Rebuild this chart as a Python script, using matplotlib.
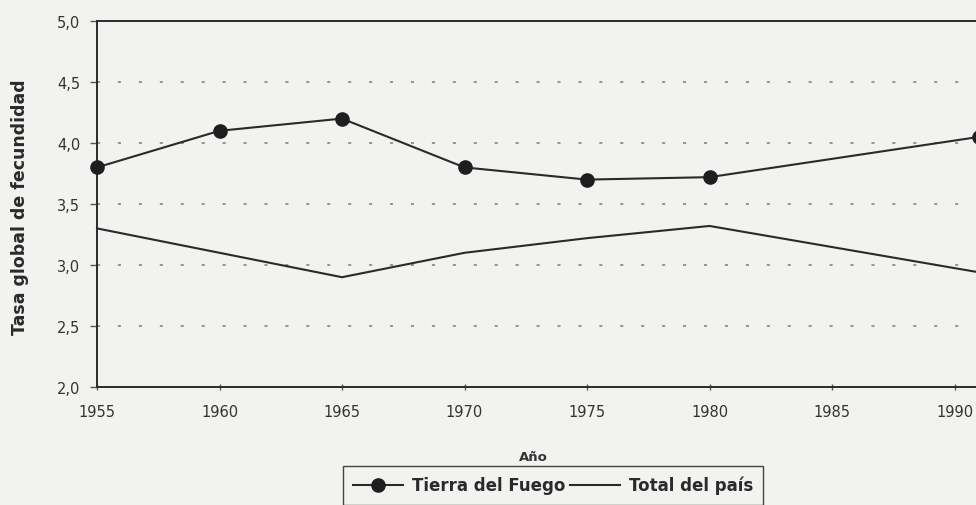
import matplotlib
matplotlib.use("Agg")
import matplotlib.pyplot as plt
from matplotlib.lines import Line2D

years = [1955, 1960, 1965, 1970, 1975, 1980, 1991]
tierra_del_fuego = [3.80, 4.10, 4.20, 3.80, 3.70, 3.72, 4.05]
total_pais = [3.30, 3.10, 2.90, 3.10, 3.22, 3.32, 2.94]
x_ticks = [1955, 1960, 1965, 1970, 1975, 1980, 1985, 1990]
y_ticks = [2.0, 2.5, 3.0, 3.5, 4.0, 4.5, 5.0]
y_tick_labels = ["2,0", "2,5", "3,0", "3,5", "4,0", "4,5", "5,0"]
series_labels = ["Tierra del Fuego", "Total del país"]
x_label = "Año"
y_label = "Tasa global de fecundidad"

W, H = 976, 506
bg = "#f2f2f0"
ink = "#2a2a2a"

fig = plt.figure(figsize=(W / 100, H / 100), dpi=100, facecolor=bg)
left, right, top, bottom = 97, 979, 22, 388
ax = fig.add_axes([left / W, 1 - bottom / H, (right - left) / W, (bottom - top) / H])
ax.set_facecolor(bg)

ax.plot(years, tierra_del_fuego, color=ink, lw=1.5, marker="o", ms=9.5,
        mfc="#1e1e1e", mec="#1e1e1e", clip_on=False, zorder=3)
ax.plot(years, total_pais, color=ink, lw=1.5, clip_on=False, zorder=3)

ax.set_xlim(1955, 1991)
ax.set_ylim(2.0, 5.0)
ax.set_xticks(x_ticks)
ax.set_yticks(y_ticks)
ax.set_yticklabels(y_tick_labels)

for v in y_ticks[1:-1]:
    ax.axhline(v, color="#7a7a7a", lw=1.1, linestyle=(0, (2.0, 11.7)), zorder=1)

for s in ["left", "bottom", "top"]:
    ax.spines[s].set_color(ink)
    ax.spines[s].set_linewidth(1.4)
ax.spines["right"].set_visible(False)

ax.tick_params(axis="y", direction="out", length=5, width=1, color="#555555",
               pad=7, labelsize=10.5, labelcolor="#333333")
ax.tick_params(axis="x", direction="inout", length=4, width=1, color="#555555",
               pad=10.5, labelsize=10.5, labelcolor="#333333")

fig.text(20 / W, 1 - 207 / H, y_label, rotation=90, ha="center", va="center",
         fontsize=12.5, fontweight="bold", family="DejaVu Sans", color="#2a2a2a")
fig.text(533 / W, 1 - 458 / H, x_label, ha="center", va="center",
         fontsize=9.5, fontweight="bold", color="#333333")

handles = [
    Line2D([], [], color=ink, lw=1.5, marker="o", ms=9.5, mfc="#1e1e1e", mec="#1e1e1e"),
    Line2D([], [], color=ink, lw=1.5),
]
leg = fig.legend(handles, series_labels, loc="upper left",
                 bbox_to_anchor=(343 / W, 1 - 467 / H), ncol=2, frameon=True,
                 fancybox=False, edgecolor="#444444", facecolor=bg, framealpha=1,
                 handlelength=3.0, handletextpad=0.55, columnspacing=0.25,
                 borderpad=0.6, borderaxespad=0,
                 prop={"family": "DejaVu Sans", "weight": "bold", "size": 12})
leg.get_frame().set_linewidth(1.0)
for t in leg.get_texts():
    t.set_color("#2a2a2a")

fig.savefig("out.png", dpi=100, facecolor=bg)
